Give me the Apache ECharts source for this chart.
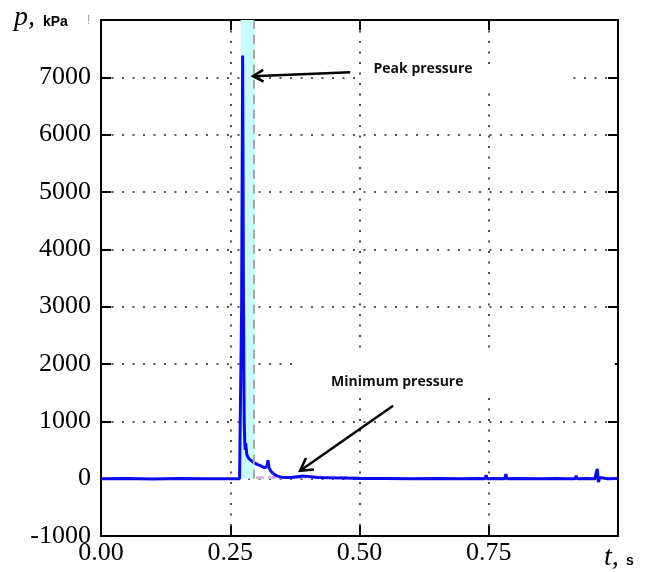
<!DOCTYPE html>
<html>
<head>
<meta charset="utf-8">
<script src="https://cdn.jsdelivr.net/npm/echarts@6/dist/echarts.min.js"></script>
<style>html,body{margin:0;padding:0;background:#fff}#c{width:646px;height:572px}</style>
</head>
<body>
<div id="c"></div>
<script>
// ---- data ----
const times = [0, 0.05, 0.10, 0.15, 0.20, 0.25, 0.268, 0.270, 0.272, 0.274, 0.2755, 0.277, 0.278, 0.279, 0.280, 0.282, 0.284, 0.287, 0.290, 0.294, 0.298, 0.302, 0.306, 0.310, 0.314, 0.318, 0.321, 0.323, 0.325, 0.328, 0.332, 0.336, 0.340, 0.345, 0.350, 0.36, 0.37, 0.38, 0.39, 0.40, 0.41, 0.42, 0.44, 0.47, 0.50, 0.55, 0.60, 0.65, 0.70, 0.730, 0.743, 0.745, 0.747, 0.76, 0.781, 0.783, 0.785, 0.80, 0.85, 0.88, 0.90, 0.917, 0.919, 0.921, 0.94, 0.955, 0.958, 0.960, 0.962, 0.965, 0.98, 1.00];
const pressure = [0, 5, -5, 5, 0, 0, 0, 5, 3000, 7380, 3200, 1000, 640, 500, 620, 420, 380, 340, 320, 290, 270, 250, 235, 220, 200, 190, 230, 320, 190, 140, 100, 70, 50, 35, 25, 20, 25, 35, 45, 40, 30, 20, 15, 10, 5, 5, 0, 5, 0, 5, 0, 60, 0, 5, 0, 80, 0, 5, 0, 5, 0, 0, 50, 0, 5, 0, 30, 170, -60, 20, 0, 5];
const pinkTimes = [0.30, 0.33, 0.36, 0.40, 0.44, 0.48, 0.50];
const pinkValues = [15, 20, 20, 30, 25, 20, 15];
const bandRange = [0.270, 0.298];
const dashedLineT = 0.295;
const xTicks = [0, 0.25, 0.5, 0.75, 1.0];
const yTicks = [-1000, 0, 1000, 2000, 3000, 4000, 5000, 6000, 7000, 8000];
const peakLabel = 'Peak pressure';
const minLabel = 'Minimum pressure';

const chart = echarts.init(document.getElementById('c'), null, {renderer: 'canvas'});
const serif = '"Liberation Serif", "DejaVu Serif", serif';
const sansBold = '"Liberation Sans", Arial, sans-serif';

const axisLineOpt = () => ({show: true, onZero: false, lineStyle: {color: '#000', width: 2}});
const tickOpt = () => ({show: true, inside: true, length: 10, lineStyle: {color: '#000', width: 2}});
const dottedOpt = () => ({show: true, lineStyle: {color: '#222', width: 1.6, type: [2, 8.5]}});

chart.setOption({
  animation: false,
  backgroundColor: '#fff',
  grid: {left: 101, right: 28, top: 20, bottom: 36},
  xAxis: [{
    type: 'value', min: xTicks[0], max: xTicks[xTicks.length - 1], interval: 0.25,
    axisLine: axisLineOpt(), axisTick: tickOpt(), splitLine: dottedOpt(),
    axisLabel: {color: '#000', fontFamily: serif, fontSize: 26, margin: 4,
      formatter: v => (Math.abs(v - 1) < 1e-9 ? '' : v.toFixed(2))}
  }, {
    type: 'value', position: 'top', min: xTicks[0], max: xTicks[xTicks.length - 1], interval: 0.25,
    axisLine: axisLineOpt(), axisTick: tickOpt(), splitLine: {show: false}, axisLabel: {show: false}
  }],
  yAxis: [{
    type: 'value', min: yTicks[0], max: yTicks[yTicks.length - 1], interval: 1000,
    axisLine: axisLineOpt(), axisTick: tickOpt(), splitLine: dottedOpt(),
    axisLabel: {color: '#000', fontFamily: serif, fontSize: 26, margin: 10,
      formatter: v => (v === 8000 ? '' : String(v))}
  }, {
    type: 'value', position: 'right', min: yTicks[0], max: yTicks[yTicks.length - 1], interval: 1000,
    axisLine: axisLineOpt(), axisTick: tickOpt(), splitLine: {show: false}, axisLabel: {show: false}
  }],
  series: [{
    type: 'line', name: 'band', z: -1, data: [], silent: true,
    markArea: {silent: true, itemStyle: {color: '#c9fbfb'},
      data: [[{xAxis: bandRange[0], yAxis: 0}, {xAxis: bandRange[1], yAxis: 8000}]]},
    markLine: {silent: true, symbol: 'none', label: {show: false},
      lineStyle: {color: '#a8a8a8', width: 2, type: [9, 6]},
      data: [[{coord: [dashedLineT, 0]}, {coord: [dashedLineT, 8000]}]]}
  }, {
    type: 'line', name: 'pink', z: 2, showSymbol: false,
    data: pinkTimes.map((t, i) => [t, pinkValues[i]]),
    lineStyle: {color: '#d9b3d9', width: 3, type: [8, 4]}
  }, {
    type: 'line', name: 'pressure', z: 3, showSymbol: false,
    data: times.map((t, i) => [t, pressure[i]]),
    lineStyle: {color: '#0a0af0', width: 3}
  }]
});

// annotations, positioned in data coordinates
const toPx = (t, p) => chart.convertToPixel({gridIndex: 0}, [t, p]);
function rectFrom(a, b) {
  const p1 = toPx(a[0], a[1]), p2 = toPx(b[0], b[1]);
  return {x: Math.min(p1[0], p2[0]), y: Math.min(p1[1], p2[1]), width: Math.abs(p2[0] - p1[0]), height: Math.abs(p2[1] - p1[1])};
}
function arrow(tail, tip, barbLen) {
  const a = toPx(tail[0], tail[1]), b = toPx(tip[0], tip[1]);
  const dx = a[0] - b[0], dy = a[1] - b[1], L = Math.hypot(dx, dy);
  const ux = dx / L, uy = dy / L, ang = 0.52;
  const r1 = [b[0] + barbLen * (ux * Math.cos(ang) - uy * Math.sin(ang)), b[1] + barbLen * (ux * Math.sin(ang) + uy * Math.cos(ang))];
  const r2 = [b[0] + barbLen * (ux * Math.cos(-ang) - uy * Math.sin(-ang)), b[1] + barbLen * (ux * Math.sin(-ang) + uy * Math.cos(-ang))];
  return [
    {type: 'line', shape: {x1: a[0], y1: a[1], x2: b[0], y2: b[1]}, style: {stroke: '#000', lineWidth: 2.5}, z: 100},
    {type: 'polyline', shape: {points: [r1, b, r2]}, style: {stroke: '#000', lineWidth: 2.5, fill: null}, z: 100}
  ];
}
const pPeak = toPx(0.623, 7150), pMin = toPx(0.573, 1690);
const graphics = [
  {type: 'rect', shape: rectFrom([0.507, 7190], [0.901, 6780]), style: {fill: '#fff'}, z: 90},
  {type: 'rect', shape: rectFrom([0.385, 2200], [0.994, 1430]), style: {fill: '#fff'}, z: 90},
  {type: 'text', x: pPeak[0], y: pPeak[1], z: 101, style: {text: peakLabel, fill: '#111', font: 'bold 14px "Open Sans", sans-serif', align: 'center', verticalAlign: 'middle'}},
  {type: 'text', x: pMin[0], y: pMin[1], z: 101, style: {text: minLabel, fill: '#111', font: 'bold 14px "Open Sans", sans-serif', align: 'center', verticalAlign: 'middle'}}
].concat(arrow([0.482, 7087], [0.294, 7020], 12))
 .concat(arrow([0.565, 1271], [0.385, 139], 14))
 .concat([
  {type: 'text', x: 14, y: 32, z: 101, style: {text: 'p,', verticalAlign: 'bottom', font: 'italic 28px ' + serif, fill: '#000'}},
  {type: 'text', x: 43, y: 29, z: 101, style: {text: 'kPa', verticalAlign: 'bottom', font: 'bold 14px ' + sansBold, fill: '#000'}},
  {type: 'text', x: 87, y: 15, z: 101, style: {text: '!', fill: '#999', font: '12px ' + sansBold}},
  {type: 'text', x: 604, y: 572, z: 101, style: {text: 't,', verticalAlign: 'bottom', font: 'italic 28px ' + serif, fill: '#000'}},
  {type: 'text', x: 626, y: 568, z: 101, style: {text: 's', verticalAlign: 'bottom', font: 'bold 14px ' + sansBold, fill: '#000'}}
]);
chart.setOption({graphic: graphics});
</script>
</body>
</html>
